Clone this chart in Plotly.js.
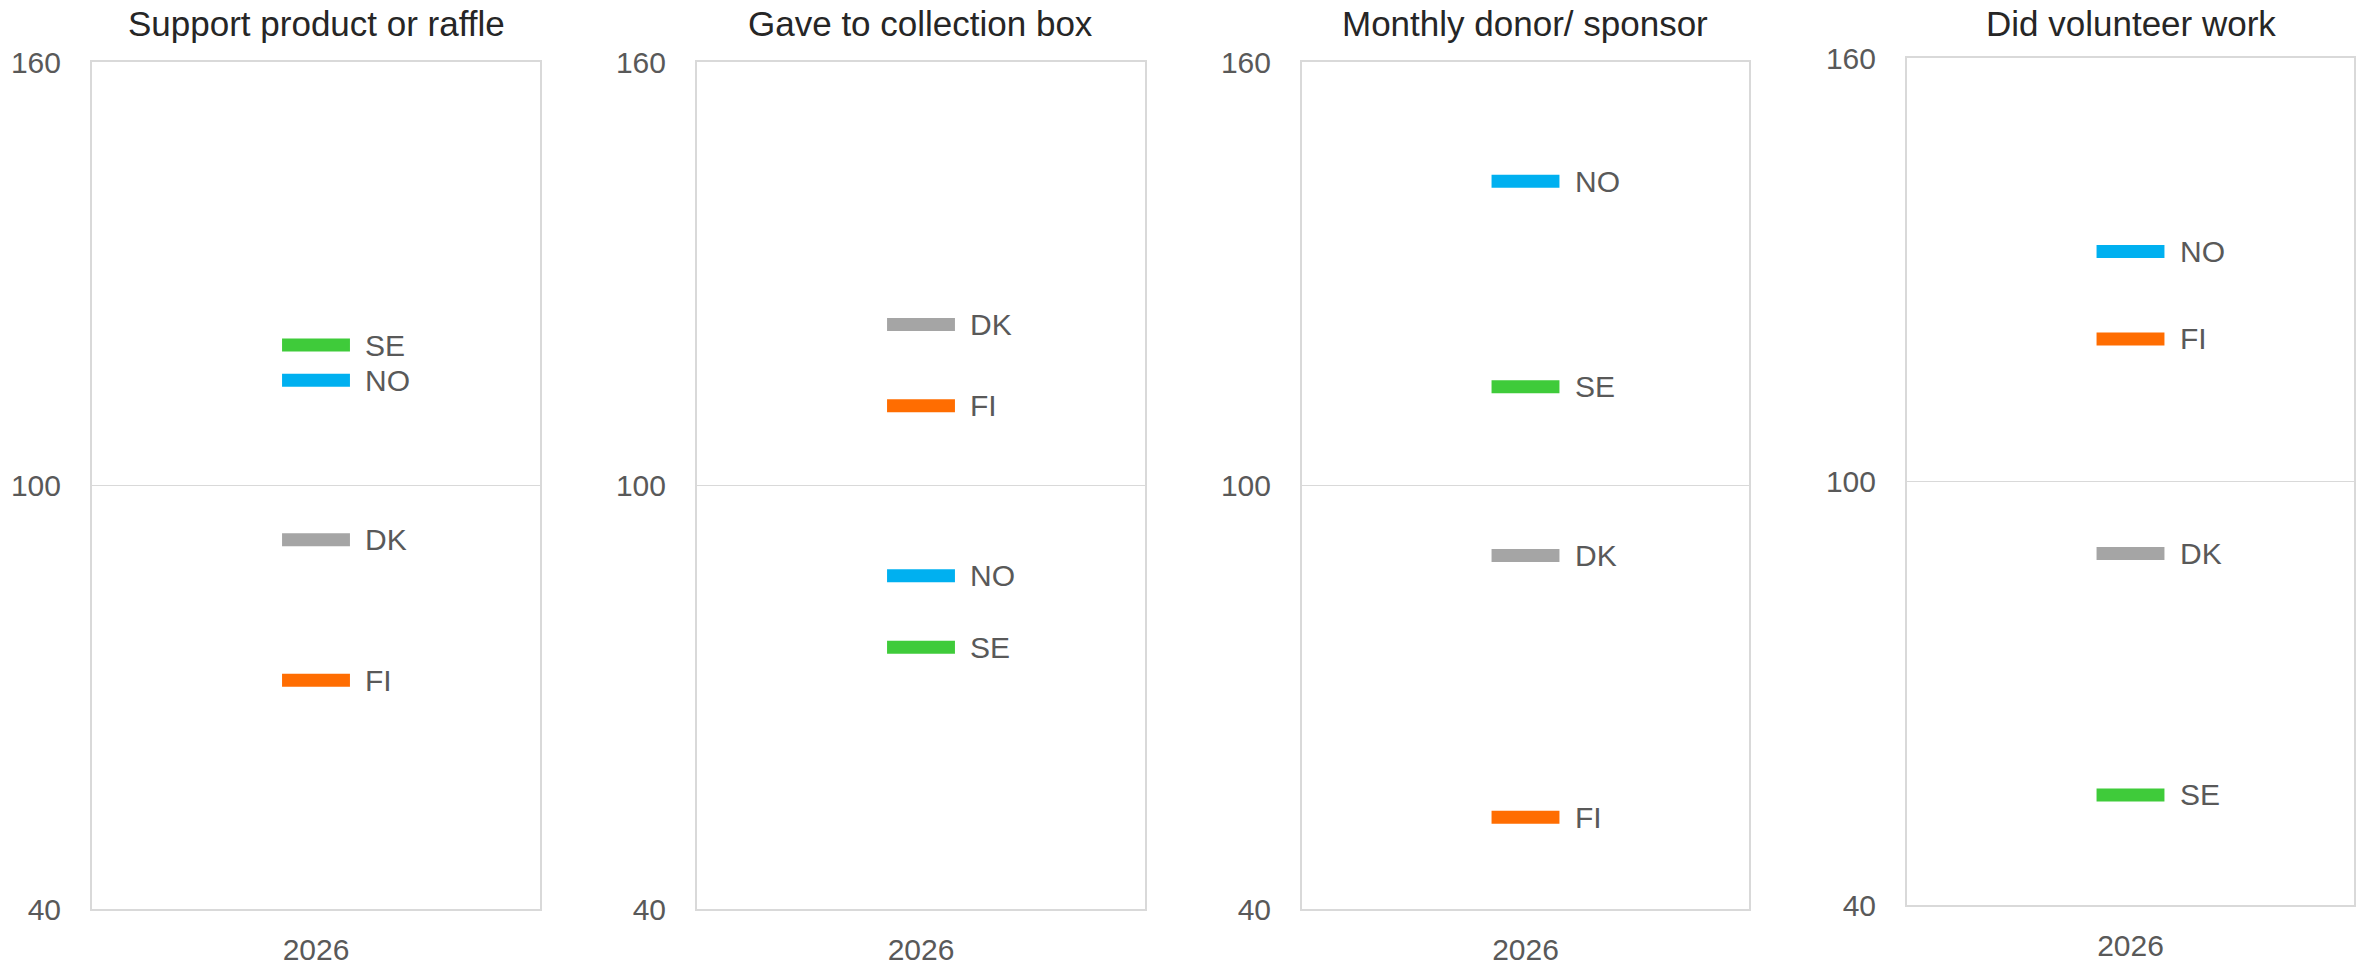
<!DOCTYPE html>
<html>
<head>
<meta charset="utf-8">
<script src="https://cdn.plot.ly/plotly-3.0.1.min.js"></script>
<style>
  html, body { margin: 0; padding: 0; background: #ffffff; }
  #chart { width: 2364px; height: 963px; }
</style>
</head>
<body>
<div id="chart"></div>
<script>
// ---- data ----
const panelTitles = ['Support product or raffle', 'Gave to collection box', 'Monthly donor/ sponsor', 'Did volunteer work'];
const year = ['2026'];
const countries = ['DK', 'FI', 'NO', 'SE'];
const dkValues = [92.3, 122.8, 90.1, 89.8];
const fiValues = [72.4, 111.3, 53.0, 120.2];
const noValues = [114.9, 87.2, 143.1, 132.6];
const seValues = [119.9, 77.1, 114.0, 55.6];
const yTicks = [40, 100, 160];

// ---- styling ----
const countryColors = { DK: '#a5a5a5', FI: '#ff6d01', NO: '#00b0f0', SE: '#3fcb3a' };
const seriesByCountry = { DK: dkValues, FI: fiValues, NO: noValues, SE: seValues };
const FONT = '"Liberation Sans", Arial, sans-serif';
const W = 2364, H = 963;
const xDomains = [[92, 540], [697, 1145], [1302, 1749], [1907, 2354]];
const yDomains = [[62, 909], [62, 909], [62, 909], [58, 905]];

const traces = [];
const annotations = [];
const layout = {
  width: W, height: H,
  margin: { l: 0, r: 0, t: 0, b: 0 },
  paper_bgcolor: '#ffffff',
  plot_bgcolor: '#ffffff',
  showlegend: false,
  font: { family: FONT, color: '#595959', size: 30 },
  annotations: annotations
};

panelTitles.forEach((title, p) => {
  const sfx = p === 0 ? '' : String(p + 1);
  const xa = 'x' + sfx, ya = 'y' + sfx;
  const xd = xDomains[p], yd = yDomains[p];
  layout['xaxis' + sfx] = {
    domain: [xd[0] / W, xd[1] / W],
    anchor: ya,
    type: 'category',
    range: [-0.5, 0.5],
    showline: true, mirror: true, linecolor: '#d9d9d9', linewidth: 2,
    showgrid: false, zeroline: false, ticks: '',
    tickfont: { family: FONT, size: 30, color: '#595959' },
    ticklabelstandoff: 13,
    fixedrange: true
  };
  layout['yaxis' + sfx] = {
    domain: [1 - yd[1] / H, 1 - yd[0] / H],
    anchor: xa,
    range: [40, 160],
    tickvals: yTicks,
    ticktext: yTicks.map(String),
    showline: true, mirror: true, linecolor: '#d9d9d9', linewidth: 2,
    showgrid: true, gridcolor: '#d9d9d9', gridwidth: 1.5,
    zeroline: false, ticks: '',
    tickfont: { family: FONT, size: 30, color: '#595959' },
    ticklabelstandoff: 23,
    fixedrange: true
  };
  annotations.push({
    xref: 'paper', yref: 'paper',
    x: (xd[0] + xd[1]) / 2 / W, y: 1 - 23 / H,
    xanchor: 'center', yanchor: 'middle',
    text: title, showarrow: false,
    font: { family: FONT, size: 35, color: '#262626' }
  });
  countries.forEach(c => {
    const v = seriesByCountry[c][p];
    traces.push({
      type: 'scatter', mode: 'markers',
      x: year, y: [v],
      xaxis: xa, yaxis: ya,
      name: c,
      marker: {
        symbol: 'line-ew', size: 48.5,
        color: countryColors[c],
        line: { color: countryColors[c], width: 13 }
      },
      hoverinfo: 'name+y'
    });
    annotations.push({
      xref: xa, yref: ya,
      x: year.indexOf(year[0]), y: v,
      xshift: 47, xanchor: 'left', yanchor: 'middle',
      text: c, showarrow: false,
      font: { family: FONT, size: 30, color: '#595959' }
    });
  });
});

Plotly.newPlot('chart', traces, layout, { displayModeBar: false, staticPlot: true });
</script>
</body>
</html>
